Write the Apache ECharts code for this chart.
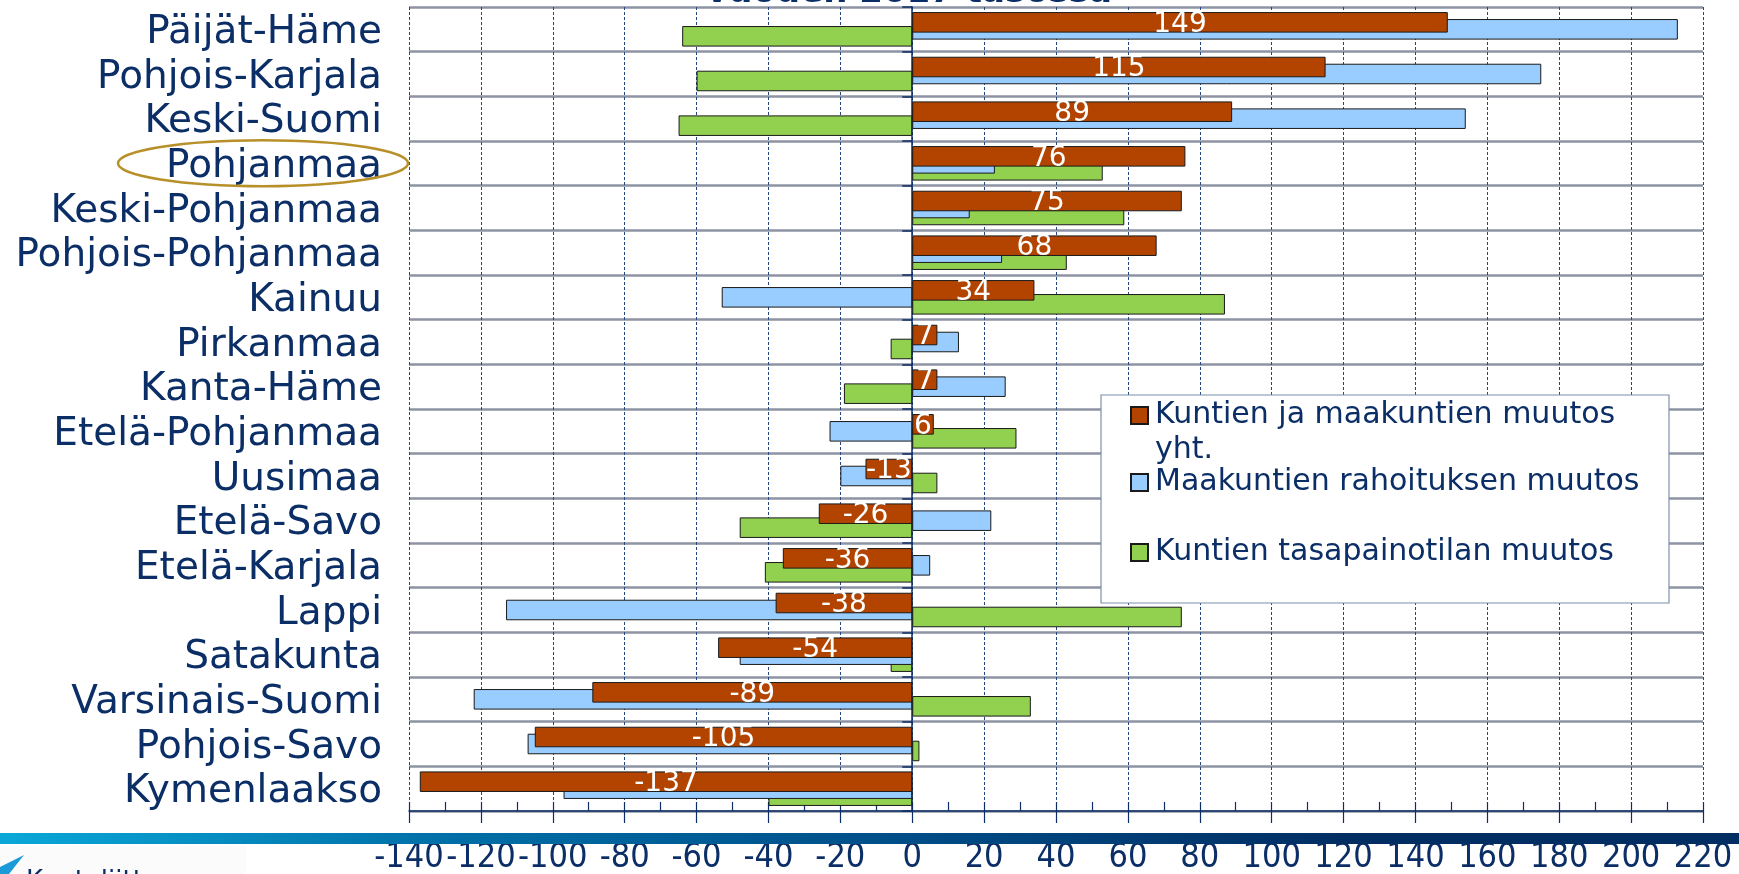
<!DOCTYPE html>
<html>
<head>
<meta charset="utf-8">
<script src="https://cdn.jsdelivr.net/npm/echarts@6/dist/echarts.min.js"></script>
<style>
html,body{margin:0;padding:0;background:#fff;}
#main{width:1739px;height:874px;}
</style>
</head>
<body>
<div id="main"></div>
<script>
var categories = ['Päijät-Häme','Pohjois-Karjala','Keski-Suomi','Pohjanmaa','Keski-Pohjanmaa','Pohjois-Pohjanmaa','Kainuu','Pirkanmaa','Kanta-Häme','Etelä-Pohjanmaa','Uusimaa','Etelä-Savo','Etelä-Karjala','Lappi','Satakunta','Varsinais-Suomi','Pohjois-Savo','Kymenlaakso']
var totalChange = [149,115,89,76,75,68,34,7,7,6,-13,-26,-36,-38,-54,-89,-105,-137]
var regionFunding = [213,175,154,23,16,25,-53,13,26,-23,-20,22,5,-113,-48,-122,-107,-97]
var municipalBalance = [-64,-60,-65,53,59,43,87,-6,-19,29,7,-48,-41,75,-6,33,2,-40]
var seriesNames = ['Kuntien ja maakuntien muutos yht.','Maakuntien rahoituksen muutos','Kuntien tasapainotilan muutos']
var xMin = -140, xMax = 220, xStep = 20

var navy = '#0b2e66'
var chartDom = document.getElementById('main')
var myChart = echarts.init(chartDom)

function legendFor(i, top){
	return {
		show: true,
		data: [seriesNames[i]],
		left: 1130,
		top: top,
		padding: 0,
		icon: 'rect',
		itemWidth: 17,
		itemHeight: 17,
		itemGap: 0,
		z: 20,
		selectedMode: false,
		formatter: function(name){
			if(name === seriesNames[0]) return '\nKuntien ja maakuntien muutos\nyht.'
			return name
		},
		textStyle: {fontFamily: 'DejaVu Sans', fontSize: 30, color: navy, lineHeight: 35, padding: [0,0,0,2]}
	}
}

var barBase = {
	type: 'bar',
	barWidth: '46%',
	barGap: '-66%',
	xAxisIndex: 0,
	yAxisIndex: 0
}

var option = {
	animation: false,
	grid: {left: 409, right: 36, top: 7, bottom: 63, containLabel: false, outerBoundsMode: 'none'},
	legend: [legendFor(0, 363), legendFor(1, 465), legendFor(2, 535)],
	xAxis: [{
		type: 'value',
		position: 'bottom',
		min: xMin, max: xMax, interval: xStep,
		axisLine: {show: true, lineStyle: {color: navy, width: 1.5}},
		axisTick: {show: true, length: 12, lineStyle: {color: navy, width: 1.2}},
		axisLabel: {show: true, margin: 30, showMinLabel: true, showMaxLabel: true, fontFamily: 'DejaVu Sans Condensed', fontSize: 34, color: navy},
		splitLine: {show: true, lineStyle: {color: '#24477f', width: 1, type: [3,2]}}
	},{
		type: 'value',
		position: 'bottom',
		min: xMin, max: xMax, interval: xStep / 2,
		axisLine: {show: false},
		axisTick: {show: true, inside: true, length: 9, lineStyle: {color: navy, width: 1.2}},
		axisLabel: {show: false},
		splitLine: {show: false}
	}],
	yAxis: [{
		type: 'category',
		position: 'left',
		inverse: true,
		data: categories,
		axisLine: {show: false, onZero: false},
		axisTick: {show: false, interval: 0},
		axisLabel: {
			interval: 0, margin: 27, color: navy,
			formatter: function(v){ return '{c|' + v + '}' },
			rich: {c: {fontFamily: 'DejaVu Sans', fontSize: 39, color: navy, padding: [7,0,0,0]}}
		},
		splitLine: {show: true, interval: 0, lineStyle: {color: '#8c93a3', width: 2.5}}
	},{
		type: 'category',
		position: 'left',
		inverse: true,
		data: categories,
		axisLine: {show: true, onZero: true, onZeroAxisIndex: 0, lineStyle: {color: navy, width: 1.5}},
		axisTick: {show: true, interval: 0, length: 10, lineStyle: {color: navy, width: 1.5}},
		axisLabel: {show: false, interval: 0},
		splitLine: {show: false}
	}],
	series: [
		Object.assign({}, barBase, {
			name: seriesNames[0],
			data: totalChange,
			z: 4,
			itemStyle: {color: '#b34400', borderColor: '#1a1a1a', borderWidth: 1},
			label: {show: true, position: 'inside', offset: [0, 2], color: '#fff', fontFamily: 'DejaVu Sans', fontSize: 28}
		}),
		Object.assign({}, barBase, {
			name: seriesNames[1],
			data: regionFunding,
			z: 3,
			itemStyle: {color: '#99ccff', borderColor: '#1a1a1a', borderWidth: 1}
		}),
		Object.assign({}, barBase, {
			name: seriesNames[2],
			data: municipalBalance,
			z: 2,
			itemStyle: {color: '#92d050', borderColor: '#1a1a1a', borderWidth: 1}
		})
	]
}
myChart.setOption(option)

// decorations: legend frame, slide band, highlight ring, clipped title and logo
var ringY = myChart.convertToPixel({yAxisIndex: 0}, 'Pohjanmaa')
myChart.setOption({
	graphic: {elements: [
		{type: 'rect', z: 10, shape: {x: 1101, y: 395, width: 568, height: 208}, style: {fill: '#fff', stroke: '#7f90ab', lineWidth: 1.2}},
		{type: 'rect', z: 10, shape: {x: 0, y: 833, width: 1739, height: 11},
			style: {fill: new echarts.graphic.LinearGradient(0, 0, 1, 0, [
				{offset: 0, color: '#0aa8d8'},
				{offset: 0.25, color: '#0070a8'},
				{offset: 0.5, color: '#00508a'},
				{offset: 0.78, color: '#002d62'},
				{offset: 1, color: '#002d62'}
			])}},
		{type: 'ellipse', z: 10, shape: {cx: 263, cy: ringY, rx: 145, ry: 23}, style: {fill: 'none', stroke: '#b8902a', lineWidth: 2.5}},
		{type: 'text', z: 10, x: 909, y: -7, style: {text: 'vuoden 2017 tasossa', fontFamily: 'DejaVu Sans', fontWeight: 'bold', fontSize: 34, fill: navy, align: 'center', verticalAlign: 'middle'}},
		{type: 'rect', z: 9, shape: {x: 0, y: 846, width: 246, height: 28}, style: {fill: '#fbfbfc'}},
		{type: 'polygon', z: 10, shape: {points: [[0,874],[0,867],[24,855],[9,874]]}, style: {fill: '#1a9ad6'}},
		{type: 'text', z: 10, x: 26, y: 869, style: {text: 'Kuntaliitto', fontFamily: 'DejaVu Sans', fontSize: 26, fill: navy, verticalAlign: 'top'}}
	]}
})
</script>
</body>
</html>
